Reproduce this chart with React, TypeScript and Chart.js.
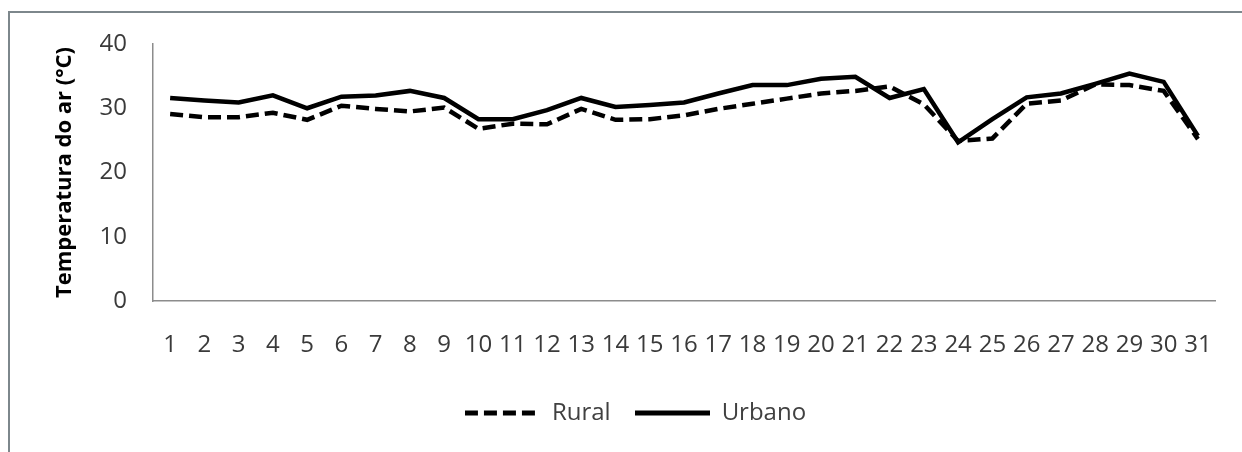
import React, { useEffect, useRef } from "react";
import { Chart, registerables } from "chart.js";

Chart.register(...registerables);

const days = Array.from({ length: 31 }, (_, i) => String(i + 1));
const urbano = [31.6, 31.2, 30.9, 32.0, 30.0, 31.8, 32.0, 32.7, 31.6, 28.3, 28.3, 29.7, 31.6, 30.2, 30.5, 30.9, 32.3, 33.6, 33.6, 34.6, 34.9, 31.6, 33.0, 24.7, 28.3, 31.7, 32.3, 33.8, 35.4, 34.1, 25.7];
const rural = [29.1, 28.6, 28.6, 29.3, 28.2, 30.4, 29.9, 29.5, 30.1, 26.8, 27.6, 27.5, 29.9, 28.2, 28.3, 28.9, 29.9, 30.7, 31.5, 32.3, 32.7, 33.4, 30.6, 24.9, 25.3, 30.7, 31.2, 33.7, 33.6, 32.7, 25.2];
const yTicks = [0, 10, 20, 30, 40];

const FONT = "'Open Sans', 'Liberation Sans', sans-serif";
const DASH = [13, 6];

function legendSymbol(dash: number[]) {
  const c = document.createElement("canvas");
  c.width = 75;
  c.height = 6;
  const ctx = c.getContext("2d")!;
  ctx.strokeStyle = "#000";
  ctx.lineWidth = 5;
  ctx.setLineDash(dash);
  ctx.beginPath();
  ctx.moveTo(0, 3);
  ctx.lineTo(75, 3);
  ctx.stroke();
  return c;
}

export default function App() {
  const ref = useRef<HTMLCanvasElement | null>(null);

  useEffect(() => {
    if (!ref.current) return;
    const symbols = [legendSymbol(DASH), legendSymbol([])];
    const chart = new Chart(ref.current, {
      type: "line",
      data: {
        labels: days,
        datasets: [
          {
            label: "Rural",
            data: rural,
            borderColor: "#000",
            backgroundColor: "#000",
            borderWidth: 4.5,
            borderDash: DASH,
            pointRadius: 0,
            tension: 0,
          },
          {
            label: "Urbano",
            data: urbano,
            borderColor: "#000",
            backgroundColor: "#000",
            borderWidth: 4.5,
            pointRadius: 0,
            tension: 0,
          },
        ],
      },
      options: {
        responsive: false,
        animation: false,
        devicePixelRatio: 1,
        layout: { padding: { left: 50, top: 44, right: 21, bottom: 17 } },
        plugins: {
          tooltip: { enabled: false },
          legend: {
            position: "bottom",
            labels: {
              usePointStyle: true,
              pointStyleWidth: 75,
              padding: 24,
              color: "#404040",
              font: { family: FONT, size: 24 },
              generateLabels: (ch: any) => {
                const items = Chart.defaults.plugins.legend.labels.generateLabels(ch);
                items.forEach((it: any, i: number) => {
                  it.pointStyle = symbols[i];
                  it.fontColor = "#404040";
                });
                return items;
              },
            },
          },
        },
        scales: {
          x: {
            offset: true,
            grid: { display: false, drawTicks: false, offset: true },
            border: { display: true, color: "#8c8c8c", width: 1.5 },
            ticks: {
              color: "#3a3a3a",
              padding: 30,
              maxRotation: 0,
              autoSkip: false,
              font: { family: FONT, size: 24 },
            },
            afterFit: (s: any) => {
              s.height = 76;
            },
          },
          y: {
            min: 0,
            max: 40,
            afterBuildTicks: (s: any) => {
              s.ticks = yTicks.map((v) => ({ value: v }));
            },
            grid: { display: false, drawTicks: false },
            border: { display: true, color: "#8c8c8c", width: 1.5 },
            ticks: {
              color: "#3a3a3a",
              padding: 26,
              font: { family: FONT, size: 24 },
            },
            title: {
              display: true,
              text: "Temperatura do ar (°C)",
              color: "#000",
              padding: { top: 2, bottom: 0 },
              font: { family: FONT, size: 22, weight: "bold" },
            },
            afterFit: (s: any) => {
              s.width = 103;
            },
          },
        },
      },
    });
    return () => chart.destroy();
  }, []);

  return (
    <div
      style={{
        position: "absolute",
        left: 0,
        top: 0,
        width: 1242,
        height: 452,
        overflow: "hidden",
        background: "#fff",
      }}
    >
      <div
        style={{
          position: "absolute",
          left: 8,
          top: 11,
          width: 1300,
          height: 500,
          border: "2px solid #7d878c",
          boxSizing: "border-box",
        }}
      />
      <canvas
        ref={ref}
        width={1242}
        height={452}
        style={{ position: "absolute", left: 0, top: 0, width: 1242, height: 452 }}
      />
    </div>
  );
}
